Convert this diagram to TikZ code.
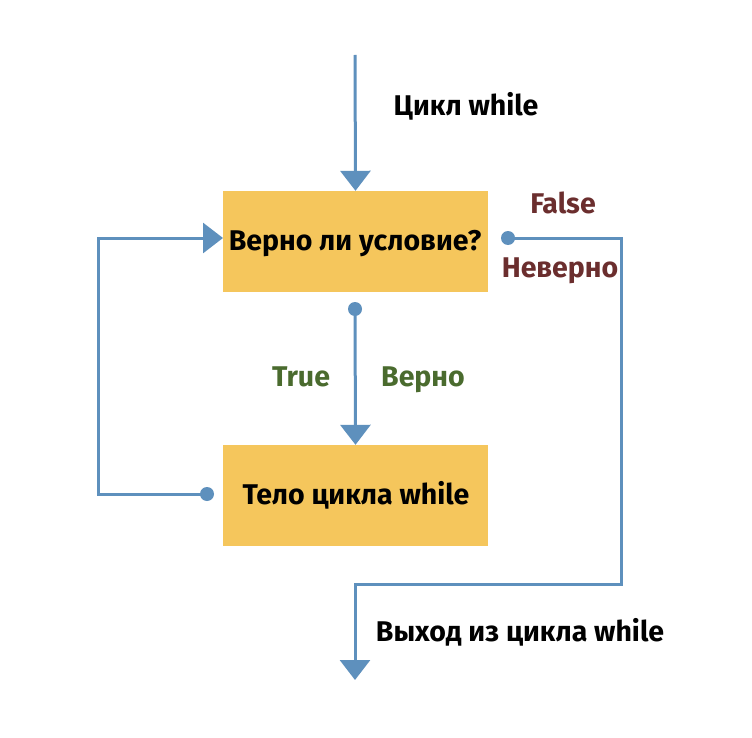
\documentclass[tikz,border=0pt]{standalone}
\usepackage{fontspec}
\setmainfont{Fira Sans}
\usetikzlibrary{arrows.meta}
\definecolor{boxfill}{HTML}{F5C65C}
\definecolor{linec}{HTML}{5E90BD}
\definecolor{falsec}{HTML}{6B2E2E}
\definecolor{truec}{HTML}{4A6B2E}
\tikzset{
  x=1pt, y=-1pt,
  box/.style={fill=boxfill, draw=none, minimum width=265pt, minimum height=101pt, inner sep=0pt, font=\fontsize{28.5}{32}\selectfont\bfseries},
  conn/.style={draw=linec, line width=3pt},
  arr/.style={conn, -{Triangle[width=30pt,length=20pt]}},
  dotc/.style={fill=linec},
  lbl/.style={font=\fontsize{28.5}{32}\selectfont\bfseries, inner sep=0pt, anchor=base},
}
\begin{document}
\begin{tikzpicture}
\useasboundingbox (0,0) rectangle (752,738);
\fill[white] (0,0) rectangle (752,738);
\node[box] (cond) at (355.5,241.5) {};
\node[box] (body) at (355.5,495.5) {};
\node[lbl] (t1) at (355,251) {Верно ли условие?};
\node[lbl] (t2) at (356,504) {Тело цикла while};
\coordinate (start) at (355,55);
\coordinate (dtrue) at (355,309);
\coordinate (dleft) at (207,494);
\coordinate (dright) at (508,238);
\coordinate (lin) at (223,238);
\coordinate (exit) at (355,680);
\draw[arr] (start) -- (cond.north);
\draw[arr] (dtrue) -- (body.north);
\draw[arr] (dleft) -- (98,494) -- (98,238) -- (lin);
\draw[arr] (dright) -- (621,238) -- (621,584) -- (355,584) -- (exit);
\fill[dotc] (dtrue) circle (7pt);
\fill[dotc] (dleft) circle (7pt);
\fill[dotc] (dright) circle (7pt);
\node[lbl] (l1) at (466,116) {Цикл while};
\node[lbl, text=falsec] (l2) at (563,214) {False};
\node[lbl, text=falsec] (l3) at (560,277) {Неверно};
\node[lbl, text=truec] (l4) at (301,386) {True};
\node[lbl, text=truec] (l5) at (423,386) {Верно};
\node[lbl] (l6) at (520,641) {Выход из цикла while};
\end{tikzpicture}
\end{document}
